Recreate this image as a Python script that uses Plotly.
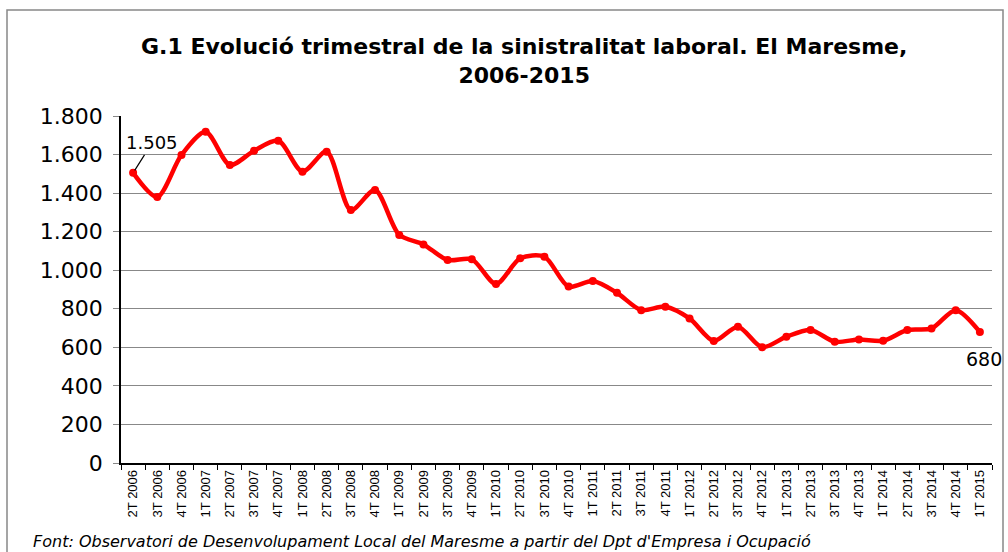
import plotly.graph_objects as go

quarters = ["2T 2006", "3T 2006", "4T 2006",
            "1T 2007", "2T 2007", "3T 2007", "4T 2007",
            "1T 2008", "2T 2008", "3T 2008", "4T 2008",
            "1T 2009", "2T 2009", "3T 2009", "4T 2009",
            "1T 2010", "2T 2010", "3T 2010", "4T 2010",
            "1T 2011", "2T 2011", "3T 2011", "4T 2011",
            "1T 2012", "2T 2012", "3T 2012", "4T 2012",
            "1T 2013", "2T 2013", "3T 2013", "4T 2013",
            "1T 2014", "2T 2014", "3T 2014", "4T 2014",
            "1T 2015"]
accidents = [1505, 1380, 1598, 1718, 1546, 1620, 1672,
             1511, 1615, 1312, 1416,
             1183, 1134, 1053, 1057,
             928, 1062, 1070, 915,
             944, 883, 793, 811,
             750, 633, 707, 600,
             655, 690, 629, 641,
             634, 690, 698, 793,
             680]
y_ticks = [0, 200, 400, 600, 800, 1000, 1200, 1400, 1600, 1800]

L, R, T, B = 121, 16, 116, 89
W, H = 1008, 552
pw, ph = W - L - R, H - T - B

def px_x(p):
    return (p - L) / pw

def px_y(p):
    return (H - B - p) / ph

fig = go.Figure()
fig.add_trace(go.Scatter(
    x=quarters, y=accidents, mode="lines+markers",
    line=dict(color="#ff0000", width=4.5, shape="spline", smoothing=0.8),
    marker=dict(color="#ff0000", size=8),
    hoverinfo="x+y", showlegend=False,
))

fig.update_layout(
    width=W, height=H,
    margin=dict(l=L, r=R, t=T, b=B),
    paper_bgcolor="white", plot_bgcolor="white",
    separators=",.",
    font=dict(family="DejaVu Sans", color="#000"),
    xaxis=dict(
        type="category", range=[-0.5, len(quarters) - 0.5],
        tickangle=-90, tickfont=dict(family="Liberation Sans", size=13, color="#000"),
        showline=True, linecolor="#000", linewidth=1.5,
        ticks="outside", tickson="boundaries", ticklen=5, tickcolor="#000",
        showgrid=False, fixedrange=True,
    ),
    yaxis=dict(
        range=[0, 1800], tickvals=y_ticks, tickformat=",d",
        tickfont=dict(family="DejaVu Sans", size=22, color="#000"),
        showline=True, linecolor="#000", linewidth=1.5,
        ticks="outside", ticklen=6, tickcolor="#888",
        ticklabelstandoff=6,
        showgrid=True, gridcolor="#888", gridwidth=1.2,
        zeroline=False, fixedrange=True,
    ),
)

fig.add_annotation(
    x=quarters[0], y=accidents[0], text="1.505",
    showarrow=True, arrowhead=0, arrowwidth=1.2, arrowcolor="#000",
    ax=19, ay=-30, standoff=3,
    font=dict(family="DejaVu Sans", size=18, color="#000"),
)
fig.add_annotation(
    x=quarters[-1], y=accidents[-1], text="680", showarrow=False,
    xshift=4, yshift=-27,
    font=dict(family="DejaVu Sans", size=19, color="#000"),
)
fig.add_annotation(
    xref="paper", yref="paper", x=px_x(524), y=px_y(61),
    xanchor="center", yanchor="middle", showarrow=False,
    text="<b>G.1 Evolució trimestral de la sinistralitat laboral. El Maresme,<br>2006-2015</b>",
    font=dict(family="DejaVu Sans", size=22, color="#000"),
)
fig.add_annotation(
    xref="paper", yref="paper", x=px_x(31), y=px_y(541),
    xanchor="left", yanchor="middle", showarrow=False,
    text="<i>Font: Observatori de Desenvolupament Local del Maresme a partir del Dpt d'Empresa i Ocupació</i>",
    font=dict(family="DejaVu Sans", size=16, color="#000"),
)
fig.add_shape(
    type="rect", xref="paper", yref="paper",
    x0=px_x(7), x1=px_x(1003), y0=px_y(570), y1=px_y(10),
    line=dict(color="#888", width=1.5), fillcolor="rgba(0,0,0,0)", layer="below",
)

fig.write_html(
    "out.html",
    config={"displayModeBar": False},
    post_script="document.body.style.margin='0';document.body.style.padding='0';",
)
